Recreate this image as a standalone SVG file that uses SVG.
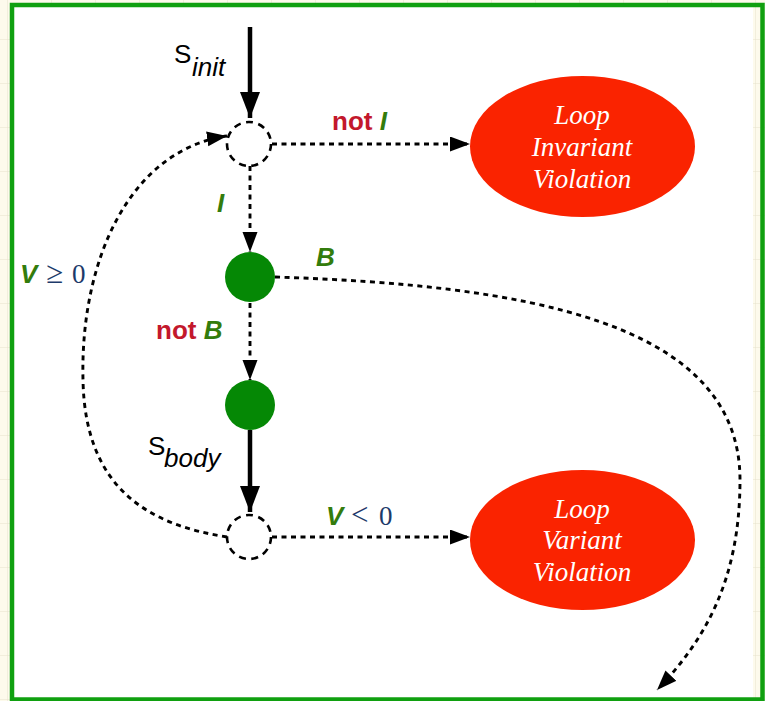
<svg xmlns="http://www.w3.org/2000/svg" width="765" height="701" viewBox="0 0 765 701">
  <style>
    .dash { fill: none; stroke: #000; stroke-width: 2.9; stroke-dasharray: 5 4.5; }
    .ring { fill: none; stroke: #000; stroke-width: 2.6; stroke-dasharray: 7 5.5; }
    .solid { fill: none; stroke: #000; stroke-width: 4.5; }
    .state { fill: #058805; }
    .fail { fill: #fa2300; }
    .failtxt { font-family: "Liberation Serif", "Times New Roman", serif; font-style: italic; font-size: 27px; fill: #fff; text-anchor: middle; }
    .lbl { font-family: "Liberation Sans", Arial, sans-serif; font-weight: bold; font-size: 26px; }
    .neg { fill: #c3182c; }
    .pred { fill: #337c0c; font-style: italic; }
    .math { font-family: "Liberation Serif", "Times New Roman", serif; font-size: 27px; fill: #1d3a6a; font-weight: normal; font-style: normal; }
    .rel { font-size: 31px; }
    .stmt { font-family: "Liberation Sans", Arial, sans-serif; font-size: 26px; fill: #000; }
  </style>
  <defs>
    <pattern id="grid" width="44" height="44" patternUnits="userSpaceOnUse" x="8" y="-4">
      <path d="M44 0V44M0 44H44" fill="none" stroke="#e6e2cc" stroke-width="1"/>
    </pattern>
    <marker id="tip" markerUnits="userSpaceOnUse" markerWidth="20" markerHeight="16" refX="20" refY="7.5" orient="auto">
      <path d="M0 0L20 7.5L0 15z" fill="#000"/>
    </marker>
    <marker id="tipBig" markerUnits="userSpaceOnUse" markerWidth="26" markerHeight="22" refX="26" refY="10" orient="auto">
      <path d="M0 0L26 10L0 20z" fill="#000"/>
    </marker>
  </defs>

  <!-- page background and frame -->
  <rect width="765" height="701" fill="#fdfaec"/>
  <rect width="765" height="701" fill="url(#grid)"/>
  <rect x="14" y="7" width="739" height="691" fill="#fff"/>
  <rect x="12" y="5" width="750.5" height="694.5" fill="none" stroke="#10a010" stroke-width="4.5"/>

  <!-- connectors -->
  <g id="connectors">
    <path class="solid" d="M250 27V118" marker-end="url(#tipBig)"/>
    <path class="dash" d="M272 144H470" marker-end="url(#tip)"/>
    <path class="dash" d="M250 166V252" marker-end="url(#tip)"/>
    <path class="dash" d="M275 277C520 285 740 320 740 480C740 580 705 640 657 690" marker-end="url(#tip)"/>
    <path class="dash" d="M250 303V380" marker-end="url(#tip)"/>
    <path class="solid" d="M250 430V512" marker-end="url(#tipBig)"/>
    <path class="dash" d="M272 537H470" marker-end="url(#tip)"/>
    <path class="dash" d="M227 537C150 525 85 490 83 380C80 260 130 150 227 136" marker-end="url(#tip)"/>
  </g>

  <!-- edge labels -->
  <g id="labels">
    <text class="stmt" x="174" y="63">S</text>
    <text class="stmt" x="192" y="76" font-style="italic" font-size="28">init</text>
    <text class="lbl" x="332" y="130"><tspan class="neg">not</tspan><tspan class="pred"> I</tspan></text>
    <text class="lbl pred" x="217" y="212">I</text>
    <text class="lbl pred" x="316" y="266">B</text>
    <text class="lbl" x="156" y="339"><tspan class="neg">not</tspan><tspan class="pred"> B</tspan></text>
    <text class="stmt" x="148" y="455">S</text>
    <text class="stmt" x="164" y="467" font-style="italic" font-size="28">body</text>
    <text class="lbl" y="283"><tspan class="pred" x="20">V</tspan><tspan class="math rel" x="46">≥</tspan><tspan class="math" x="72">0</tspan></text>
    <text class="lbl" y="525"><tspan class="pred" x="326">V</tspan><tspan class="math rel" x="351">&lt;</tspan><tspan class="math" x="379">0</tspan></text>
  </g>

  <!-- nodes -->
  <g id="loop-head">
    <circle class="ring" cx="249" cy="144" r="22"/>
  </g>
  <g id="guard">
    <circle class="state" cx="250" cy="277" r="25"/>
  </g>
  <g id="body-entry">
    <circle class="state" cx="250" cy="405" r="25"/>
  </g>
  <g id="loop-tail">
    <circle class="ring" cx="249" cy="537" r="22"/>
  </g>
  <g id="invariant-violation">
    <ellipse class="fail" cx="582.5" cy="146.5" rx="112.5" ry="70.5"/>
    <text class="failtxt" x="582" y="124">Loop</text>
    <text class="failtxt" x="582" y="156">Invariant</text>
    <text class="failtxt" x="582" y="188">Violation</text>
  </g>
  <g id="variant-violation">
    <ellipse class="fail" cx="582.5" cy="540" rx="112.5" ry="70"/>
    <text class="failtxt" x="582" y="518">Loop</text>
    <text class="failtxt" x="582" y="549">Variant</text>
    <text class="failtxt" x="582" y="581">Violation</text>
  </g>
</svg>
